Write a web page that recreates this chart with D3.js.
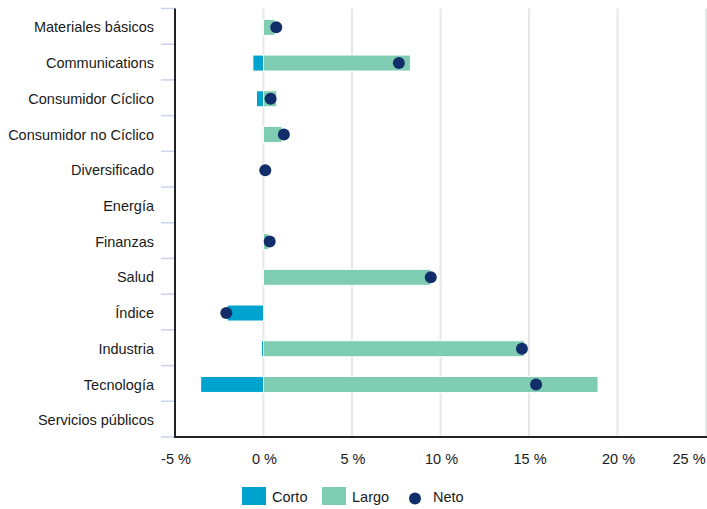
<!DOCTYPE html>
<html>
<head>
<meta charset="utf-8">
<script src="https://cdn.jsdelivr.net/npm/d3@7"></script>
<style>
  html, body { margin: 0; padding: 0; background: #fff; }
  svg { display: block; font-family: "Liberation Sans", Arial, Helvetica, sans-serif; }
</style>
</head>
<body>
<svg id="chart" width="707" height="509"></svg>
<script>
// Sector exposure (% of portfolio): short, long and net positions
const categories = [
  "Materiales básicos", "Communications", "Consumidor Cíclico", "Consumidor no Cíclico",
  "Diversificado", "Energía", "Finanzas", "Salud", "Índice", "Industria",
  "Tecnología", "Servicios públicos"
];
const corto = [0, -0.6, -0.4, 0, 0, 0, 0, 0, -2.05, -0.12, -3.55, 0];
const largo = [0.65, 8.3, 0.75, 1.05, 0, 0, 0.3, 9.45, 0, 14.75, 18.9, 0];
const neto  = [0.72, 7.65, 0.4, 1.15, 0.1, null, 0.35, 9.45, -2.1, 14.6, 15.4, null];
const xTicks = [-5, 0, 5, 10, 15, 20, 25];

const legendItems = [
  { key: "Corto", type: "rect" },
  { key: "Largo", type: "rect" },
  { key: "Neto", type: "dot" }
];

const colors = { Corto: "#00a3cd", Largo: "#7ecdb3", Neto: "#112d6a" };
const textColor = "#1a1a1a";

const svg = d3.select("#chart");
const plotLeft = 175, plotRight = 706, plotTop = 8.5, plotBottom = 437;

const x = d3.scaleLinear().domain([-5, 25]).range([plotLeft, plotRight]);
const y = d3.scaleBand().domain(categories).range([plotTop, plotBottom]).padding(0);
const bw = y.bandwidth();
const cy = c => y(c) + bw / 2 + 1;
const barH = 16;

// vertical gridlines
svg.append("g").selectAll("line")
  .data(xTicks.filter(d => d !== -5))
  .join("line")
  .attr("x1", d => x(d)).attr("x2", d => x(d))
  .attr("y1", plotTop).attr("y2", plotBottom)
  .attr("stroke", "#e6e7e8").attr("stroke-width", 2);

// category separators on the left of the axis
const bounds = categories.map(c => y(c)).concat([plotBottom]);
svg.append("g").selectAll("line")
  .data(bounds)
  .join("line")
  .attr("x1", plotLeft - 14).attr("x2", plotLeft)
  .attr("y1", d => d).attr("y2", d => d)
  .attr("stroke", "#c8d3ee").attr("stroke-width", 1.5);

// category labels
svg.append("g").selectAll("text")
  .data(categories)
  .join("text")
  .attr("x", plotLeft - 21)
  .attr("y", d => cy(d))
  .attr("dy", "0.35em")
  .attr("text-anchor", "end")
  .attr("font-size", 14.5)
  .attr("fill", textColor)
  .text(d => d);

const rows = categories.map((c, i) => ({ c, corto: corto[i], largo: largo[i], neto: neto[i] }));

// short bars
svg.append("g").selectAll("rect")
  .data(rows.filter(d => d.corto < 0))
  .join("rect")
  .attr("x", d => x(d.corto))
  .attr("width", d => x(0) - x(d.corto))
  .attr("y", d => cy(d.c) - barH / 2)
  .attr("height", barH)
  .attr("fill", colors.Corto)
  .attr("stroke", "#fff").attr("stroke-width", 1);

// long bars
svg.append("g").selectAll("rect")
  .data(rows.filter(d => d.largo > 0))
  .join("rect")
  .attr("x", x(0))
  .attr("width", d => x(d.largo) - x(0))
  .attr("y", d => cy(d.c) - barH / 2)
  .attr("height", barH)
  .attr("fill", colors.Largo)
  .attr("stroke", "#fff").attr("stroke-width", 1);

// net dots
svg.append("g").selectAll("circle")
  .data(rows.filter(d => d.neto !== null))
  .join("circle")
  .attr("cx", d => x(d.neto))
  .attr("cy", d => cy(d.c))
  .attr("r", 6)
  .attr("fill", colors.Neto);

// axis lines
svg.append("line")
  .attr("x1", plotLeft).attr("x2", plotLeft)
  .attr("y1", plotTop).attr("y2", plotBottom + 1)
  .attr("stroke", "#222").attr("stroke-width", 2);
svg.append("line")
  .attr("x1", plotLeft - 1).attr("x2", 707)
  .attr("y1", plotBottom).attr("y2", plotBottom)
  .attr("stroke", "#222").attr("stroke-width", 2);

// x tick labels
svg.append("g").selectAll("text")
  .data(xTicks)
  .join("text")
  .attr("x", d => x(d) + (d === 25 ? -17 : 1))
  .attr("y", 464)
  .attr("text-anchor", "middle")
  .attr("font-size", 14.5)
  .attr("fill", textColor)
  .text(d => `${d} %`);

// legend
const legendX = [242, 322, 409];
const lg = svg.append("g");
legendItems.forEach((it, i) => {
  const g = lg.append("g").attr("transform", `translate(${legendX[i]},0)`);
  if (it.type === "rect") {
    g.append("rect").attr("x", 0).attr("y", 487).attr("width", 24).attr("height", 18)
      .attr("fill", colors[it.key]);
    g.append("text").attr("x", 30).attr("y", 502).attr("font-size", 14.5)
      .attr("fill", textColor).text(it.key);
  } else {
    g.append("circle").attr("cx", 6).attr("cy", 498.5).attr("r", 6).attr("fill", colors[it.key]);
    g.append("text").attr("x", 24).attr("y", 502).attr("font-size", 14.5)
      .attr("fill", textColor).text(it.key);
  }
});
</script>
</body>
</html>
